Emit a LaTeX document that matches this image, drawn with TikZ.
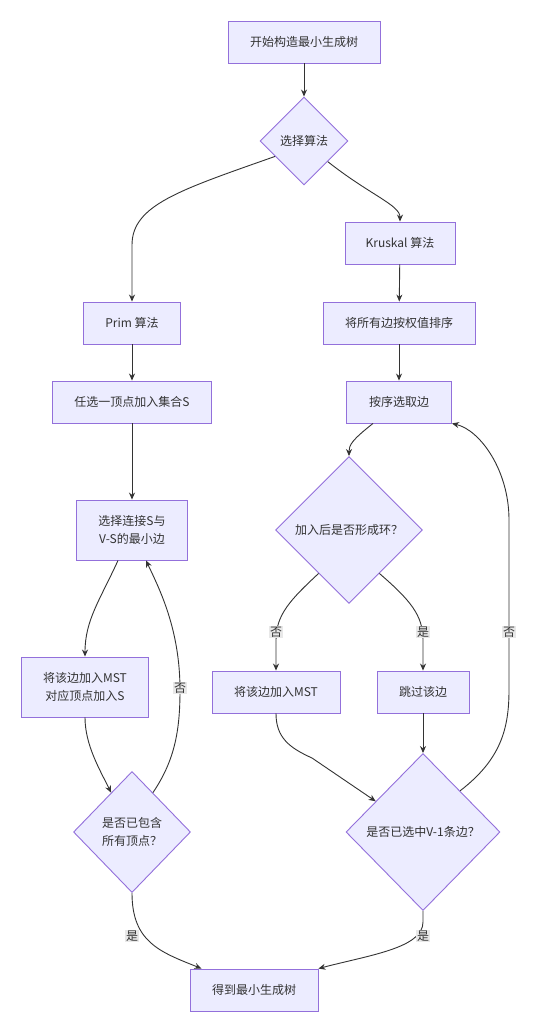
\documentclass[tikz,border=0pt]{standalone}
\usepackage{fontspec}
\setmainfont{Noto Sans CJK SC}
\usetikzlibrary{shapes.geometric,arrows.meta}
\definecolor{nodefill}{HTML}{ECECFF}
\definecolor{nodeborder}{HTML}{9370DB}
\definecolor{ink}{HTML}{333333}
\definecolor{lblbg}{HTML}{E8E8E8}
\newcommand\fsz{\fontsize{12}{18}\selectfont}
\begin{document}
\begin{tikzpicture}[x=1pt,y=-1pt,
  box/.style={draw=nodeborder, fill=nodefill, line width=0.9pt, text=ink, font=\fsz, align=center, inner sep=0pt, minimum height=42pt},
  dia/.style={diamond, aspect=1, draw=nodeborder, fill=nodefill, line width=0.9pt, text=ink, font=\fsz, align=center, inner sep=0pt},
  arr/.style={draw=ink, line width=0.9pt, -{Stealth[length=7pt,width=6pt]}},
  lbl/.style={fill=lblbg, text=ink, font=\fsz, inner sep=1pt}]
\useasboundingbox[fill=white] (0,0) rectangle (536,1024);

\node[box, minimum width=152pt] (start) at (304,42) {开始构造最小生成树};
\node[dia, minimum width=88pt, minimum height=88pt] (choose) at (304,141) {选择算法};
\node[box, minimum width=110pt] (kru) at (400,243) {Kruskal 算法};
\node[box, minimum width=97pt] (prim) at (132,323) {Prim 算法};
\node[box, minimum width=152pt] (sort) at (399,323) {将所有边按权值排序};
\node[box, minimum width=159pt] (any) at (132,402) {任选一顶点加入集合S};
\node[box, minimum width=105pt] (pick) at (399,402) {按序选取边};
\node[dia, minimum width=147pt, minimum height=147pt] (cyc) at (349,530) {加入后是否形成环？};
\node[box, minimum width=111pt, minimum height=60pt] (sel) at (132,530) {选择连接S与\\V-S的最小边};
\node[box, minimum width=127pt, minimum height=60pt] (addl) at (85,687) {将该边加入MST\\对应顶点加入S};
\node[box, minimum width=128pt] (addr) at (276,692) {将该边加入MST};
\node[box, minimum width=92pt] (skip) at (423,692) {跳过该边};
\node[dia, minimum width=117pt, minimum height=121pt] (all) at (132,832) {是否已包含\\所有顶点？};
\node[dia, minimum width=154pt, minimum height=157pt] (v1) at (423,832) {是否已选中V-1条边？};
\node[box, minimum width=128pt] (end) at (254,990) {得到最小生成树};

\draw[arr] (start) -- (choose);
\draw[arr] (choose.208) .. controls (180,190) and (132,205) .. (132,245) -- (prim.north);
\draw[arr] (choose.-41) .. controls (370,195) and (400,205) .. (kru.north);
\draw[arr] (kru) -- (sort);
\draw[arr] (sort) -- (pick);
\draw[arr] (prim) -- (any);
\draw[arr] (any) -- (sel);
\draw[arr] ([xshift=-26pt]pick.south) .. controls (352,440) and (349,445) .. (cyc.north);
\draw[arr] (cyc.235) .. controls (290,600) and (276,615) .. (276,640) -- (addr.north);
\draw[arr] (cyc.-55) .. controls (410,600) and (423,615) .. (423,640) -- (skip.north);
\draw[arr] (addr.south) .. controls (276,738) and (290,748) .. (312,758) -- (v1.147);
\draw[arr] (skip) -- (v1);
\draw[arr] (v1.48) .. controls (500,760) and (509,730) .. (509,690) -- (509,520) .. controls (509,470) and (480,430) .. (pick.south east);
\draw[arr] (v1.south) -- (423,922) .. controls (423,948) and (370,955) .. (end.north east);
\draw[arr] ([xshift=-14pt]sel.south) .. controls (100,600) and (85,620) .. (addl.north);
\draw[arr] (addl.south) .. controls (85,745) and (100,770) .. (all.118);
\draw[arr] (all.62) .. controls (175,760) and (180,730) .. (180,690) .. controls (180,630) and (160,590) .. ([xshift=14pt]sel.south);
\draw[arr] (all.south) .. controls (132,942) and (160,952) .. ([xshift=12pt]end.north west);

\node[lbl] (l1) at (276,632) {否};
\node[lbl] (l2) at (423,632) {是};
\node[lbl] (l3) at (509,632) {否};
\node[lbl] (l4) at (180,688) {否};
\node[lbl] (l5) at (132,936) {是};
\node[lbl] (l6) at (423,936) {是};
\end{tikzpicture}
\end{document}
